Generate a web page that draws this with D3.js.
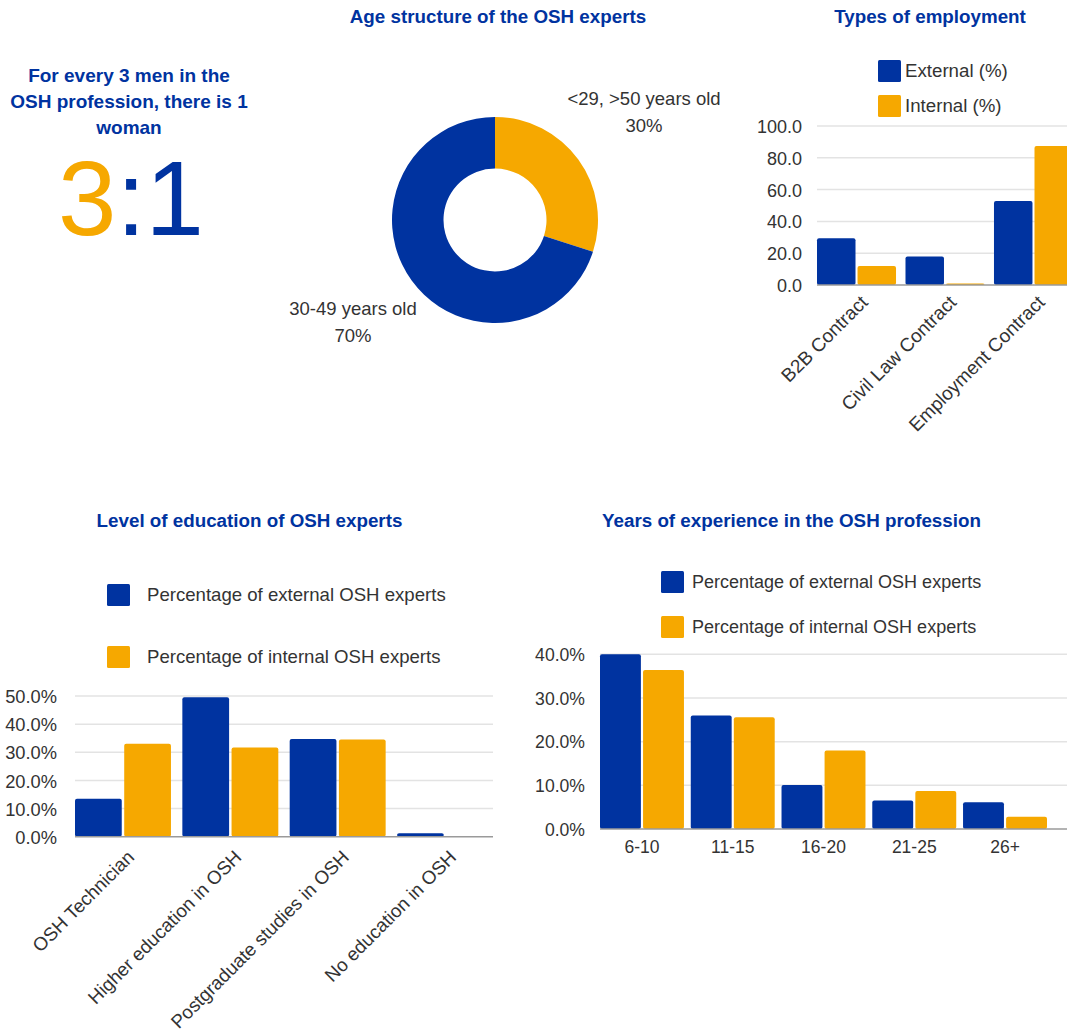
<!DOCTYPE html>
<html>
<head>
<meta charset="utf-8">
<script src="https://cdn.jsdelivr.net/npm/d3@7"></script>
<style>
  html, body { margin: 0; padding: 0; background: #fff; }
  svg { display: block; font-family: "Liberation Sans", Arial, sans-serif; }
</style>
</head>
<body>
<svg id="chart" width="1067" height="1032"></svg>
<script>
// ---- Data ----
const ageLabels = ["<29, >50 years old", "30-49 years old"];
const ageShares = [30, 70];

const employmentTypes = ["B2B Contract", "Civil Law Contract", "Employment Contract"];
const employmentSeries = ["External (%)", "Internal (%)"];
const employmentExternal = [29.4, 18.0, 52.8];
const employmentInternal = [12.0, 1.0, 87.4];
const employmentTicks = [0, 20, 40, 60, 80, 100];

const educationLevels = ["OSH Technician", "Higher education in OSH", "Postgraduate studies in OSH", "No education in OSH"];
const expertSeries = ["Percentage of external OSH experts", "Percentage of internal OSH experts"];
const educationExternal = [13.5, 49.6, 34.7, 1.2];
const educationInternal = [33.0, 31.7, 34.5, 0.0];
const educationTicks = [0, 10, 20, 30, 40, 50];

const experienceYears = ["6-10", "11-15", "16-20", "21-25", "26+"];
const experienceExternal = [40.0, 26.0, 10.1, 6.5, 6.1];
const experienceInternal = [36.4, 25.6, 18.0, 8.7, 2.8];
const experienceTicks = [0, 10, 20, 30, 40];

// ---- Style ----
const BLUE = "#0033a0";
const ORANGE = "#f6a800";
const TEXT = "#333333";
const GRID = "#e3e3e3";
const BASE = "#9a9a9a";

const svg = d3.select("#chart");

function title(x, y, text) {
  svg.append("text")
    .attr("x", x).attr("y", y)
    .attr("text-anchor", "middle")
    .attr("font-size", "18.8px")
    .attr("font-weight", "bold")
    .attr("fill", BLUE)
    .text(text);
}

// ---- Gender ratio block ----
const ratioLines = ["For every 3 men in the", "OSH profession, there is 1", "woman"];
svg.append("g").selectAll("text")
  .data(ratioLines).join("text")
  .attr("x", 129).attr("y", (d, i) => 82 + i * 26)
  .attr("text-anchor", "middle")
  .attr("font-size", "19px")
  .attr("font-weight", "bold")
  .attr("fill", BLUE)
  .text(d => d);

const ratio = svg.append("text")
  .attr("x", 131).attr("y", 235)
  .attr("text-anchor", "middle")
  .attr("font-size", "105px");
ratio.append("tspan").attr("fill", ORANGE).text("3");
ratio.append("tspan").attr("fill", BLUE).text(":1");

// ---- Age structure donut ----
title(498, 23, "Age structure of the OSH experts");
{
  const cx = 495, cy = 220, outer = 103, inner = 51.5;
  const pie = d3.pie().sort(null).value(d => d)(ageShares);
  const arc = d3.arc().innerRadius(inner).outerRadius(outer);
  const g = svg.append("g").attr("transform", `translate(${cx},${cy})`);
  g.selectAll("path").data(pie).join("path")
    .attr("d", arc)
    .attr("fill", (d, i) => i === 0 ? ORANGE : BLUE);

  const labelPos = [[644, 105], [353, 315]];
  ageLabels.forEach((lab, i) => {
    const t = svg.append("text")
      .attr("text-anchor", "middle")
      .attr("font-size", "18.5px")
      .attr("fill", TEXT);
    t.append("tspan").attr("x", labelPos[i][0]).attr("y", labelPos[i][1]).text(lab);
    t.append("tspan").attr("x", labelPos[i][0]).attr("y", labelPos[i][1] + 26.7).text(ageShares[i] + "%");
  });
}

// ---- Generic grouped bar chart ----
function groupedBars(opt) {
  const { cats, ext, int, ticks, yMax, x0, x1, yTop, yBottom, padInner,
          gridRight, tickFmt, tickRight, tickSize, labelSize, rotate, labelY } = opt;
  const x = d3.scaleBand().domain(cats).range([x0, x1]).paddingInner(padInner).paddingOuter(0);
  const xs = d3.scaleBand().domain([0, 1]).range([0, x.bandwidth()]).paddingInner(0.05);
  const y = d3.scaleLinear().domain([0, yMax]).range([yBottom, yTop]);

  const g = svg.append("g");
  // gridlines
  g.append("g").selectAll("line").data(ticks.filter(t => t > 0)).join("line")
    .attr("x1", x0).attr("x2", gridRight)
    .attr("y1", d => y(d)).attr("y2", d => y(d))
    .attr("stroke", GRID).attr("stroke-width", 1.5);

  // y tick labels via axis
  const axis = d3.axisLeft(y).tickValues(ticks).tickFormat(tickFmt).tickSize(0).tickPadding(0);
  const ag = g.append("g").attr("transform", `translate(${tickRight},0)`).call(axis);
  ag.select(".domain").remove();
  ag.selectAll("text")
    .attr("font-size", tickSize)
    .attr("font-family", "Liberation Sans, Arial, sans-serif")
    .attr("fill", TEXT)
    .attr("dy", "0.36em");

  // bars
  const rows = cats.map((c, i) => ({ c, v: [ext[i], int[i]] }));
  const grp = g.append("g").selectAll("g").data(rows).join("g")
    .attr("transform", d => `translate(${x(d.c)},0)`);
  grp.selectAll("rect").data(d => d.v.map((v, k) => ({ v, k }))).join("rect")
    .attr("x", d => xs(d.k))
    .attr("width", xs.bandwidth())
    .attr("y", d => y(d.v))
    .attr("height", d => y(0) - y(d.v))
    .attr("rx", 2)
    .attr("fill", d => d.k === 0 ? BLUE : ORANGE);

  // baseline
  g.append("line")
    .attr("x1", x0).attr("x2", gridRight)
    .attr("y1", y(0)).attr("y2", y(0))
    .attr("stroke", BASE).attr("stroke-width", 1.5);

  // category labels
  const lab = g.append("g").selectAll("text").data(cats).join("text")
    .attr("font-size", labelSize)
    .attr("fill", TEXT)
    .text(d => d);
  if (rotate) {
    lab.attr("text-anchor", "end")
      .attr("transform", d => `translate(${x(d) + x.bandwidth() / 2 + 3},${labelY}) rotate(-45)`)
      .attr("dy", "0.7em");
  } else {
    lab.attr("text-anchor", "middle")
      .attr("x", d => x(d) + x.bandwidth() / 2)
      .attr("y", labelY);
  }
}

function legend(x, yTop, gap, names, size, textX) {
  const g = svg.append("g");
  names.forEach((n, i) => {
    g.append("rect")
      .attr("x", x).attr("y", yTop + i * gap)
      .attr("width", 23).attr("height", 22).attr("rx", 1.5)
      .attr("fill", i === 0 ? BLUE : ORANGE);
    g.append("text")
      .attr("x", textX).attr("y", yTop + i * gap + 17)
      .attr("font-size", size)
      .attr("fill", TEXT)
      .text(n);
  });
}

// ---- Types of employment ----
title(930, 23, "Types of employment");
legend(878, 60, 35, employmentSeries, "18.7px", 905);
groupedBars({
  cats: employmentTypes, ext: employmentExternal, int: employmentInternal,
  ticks: employmentTicks, yMax: 100, x0: 817, x1: 1073, yTop: 126, yBottom: 285,
  padInner: 0.107, gridRight: 1067, tickFmt: d3.format(".1f"), tickRight: 802,
  tickSize: "18px", labelSize: "19px", rotate: true, labelY: 294
});

// ---- Level of education ----
title(249.5, 527, "Level of education of OSH experts");
legend(107, 584, 62, expertSeries, "18.6px", 147);
groupedBars({
  cats: educationLevels, ext: educationExternal, int: educationInternal,
  ticks: educationTicks, yMax: 50, x0: 75, x1: 493, yTop: 696, yBottom: 836.7,
  padInner: 0.106, gridRight: 493, tickFmt: d => d3.format(".1f")(d) + "%", tickRight: 57,
  tickSize: "18.3px", labelSize: "18.8px", rotate: true, labelY: 849
});

// ---- Years of experience ----
title(791.5, 527, "Years of experience in the OSH profession");
legend(661, 571, 45, expertSeries, "18px", 692);
groupedBars({
  cats: experienceYears, ext: experienceExternal, int: experienceInternal,
  ticks: experienceTicks, yMax: 40, x0: 600, x1: 1047, yTop: 654.3, yBottom: 829,
  padInner: 0.075, gridRight: 1067, tickFmt: d => d3.format(".1f")(d) + "%", tickRight: 585,
  tickSize: "17.6px", labelSize: "17.5px", rotate: false, labelY: 853
});
</script>
</body>
</html>
